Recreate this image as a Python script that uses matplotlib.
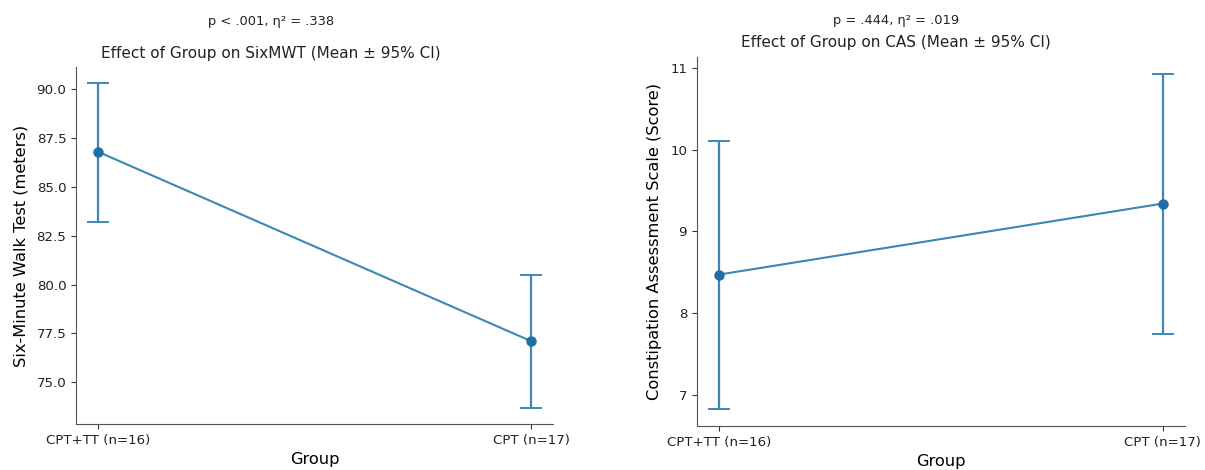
import matplotlib
matplotlib.use("Agg")
import matplotlib.pyplot as plt
import numpy as np

plt.rcParams["font.family"] = "DejaVu Sans"

groups = ["CPT+TT (n=16)", "CPT (n=17)"]

# six-minute walk test, mean and 95% CI
smwt_mean = [86.8, 77.1]
smwt_lo = [83.2, 73.7]
smwt_hi = [90.3, 80.5]

# constipation assessment scale, mean and 95% CI
cas_mean = [8.47, 9.34]
cas_lo = [6.82, 7.74]
cas_hi = [10.11, 10.93]

stats_txt = ["p < .001, η² = .338", "p = .444, η² = .019"]
titles = ["Effect of Group on SixMWT (Mean ± 95% CI)",
          "Effect of Group on CAS (Mean ± 95% CI)"]
ylabels = ["Six-Minute Walk Test (meters)",
           "Constipation Assessment Scale (Score)"]

line_col = "#3d88b2"
pt_col = "#1f6fa6"

fig = plt.figure(figsize=(12.05, 4.7), dpi=100)
ax1 = fig.add_axes([0.0631, 0.0979, 0.3959, 0.7596])
ax2 = fig.add_axes([0.5784, 0.0936, 0.4050, 0.7851])


def draw(ax, mean, lo, hi, i, title_y, stats_y):
    x = np.arange(len(groups))
    mean = np.array(mean)
    err = [mean - np.array(lo), np.array(hi) - mean]
    ax.errorbar(x, mean, yerr=err, fmt="none", ecolor=line_col,
                elinewidth=1.6, capsize=8, capthick=1.4)
    ax.plot(x, mean, color=line_col, lw=1.5)
    ax.plot(x, mean, "o", color=pt_col, ms=6.5)
    ax.set_xticks(x)
    ax.set_xticklabels(groups)
    ax.set_xlabel("Group", fontsize=11.7, labelpad=4)
    ax.set_ylabel(ylabels[i], fontsize=11.7, labelpad=6)
    ax.tick_params(axis="both", labelsize=9.6, colors="#333333", labelcolor="#222222")
    for s in ["top", "right"]:
        ax.spines[s].set_visible(False)
    for s in ["left", "bottom"]:
        ax.spines[s].set_color("#555555")
    ax.text(0.408, title_y, titles[i], transform=ax.transAxes,
            ha="center", va="center", fontsize=11, color="#222222")
    ax.text(0.408, stats_y, stats_txt[i], transform=ax.transAxes,
            ha="center", va="center", fontsize=9.4, color="#222222")


draw(ax1, smwt_mean, smwt_lo, smwt_hi, 0, 1.039, 1.128)
draw(ax2, cas_mean, cas_lo, cas_hi, 1, 1.038, 1.098)

fig.savefig("out.png", dpi=100)
